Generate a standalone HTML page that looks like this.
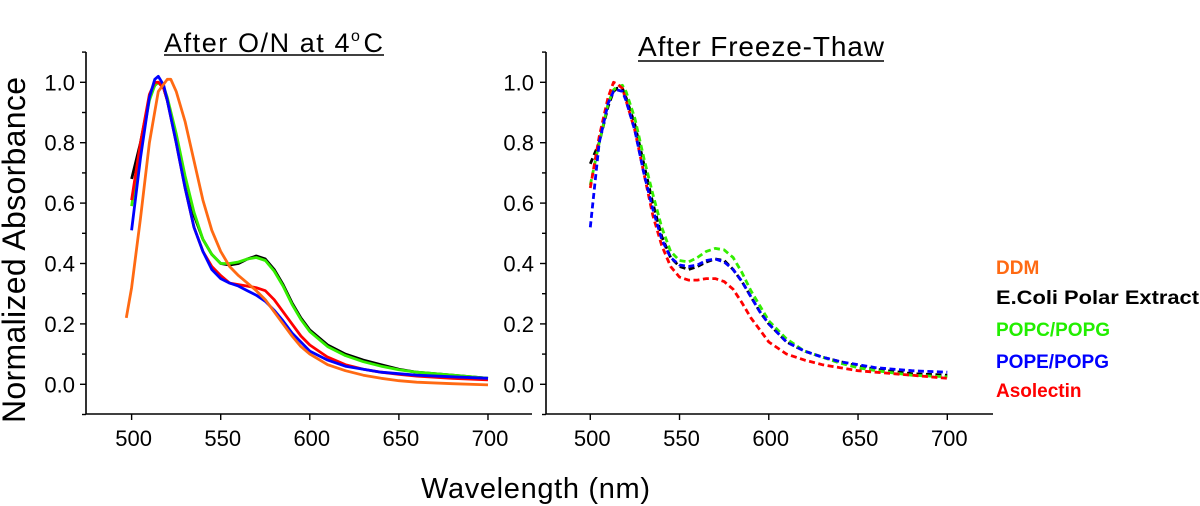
<!DOCTYPE html>
<html><head><meta charset="utf-8"><style>
html,body{margin:0;padding:0;background:#fff;}
svg{display:block;font-family:"Liberation Sans",Arial,sans-serif;}
</style></head><body>
<svg id="chart" width="1200" height="506" viewBox="0 0 1200 506">
<g id="p1"></g>
<g id="p2"></g>
<text x="164" y="52" font-size="27" textLength="219">After O/N at 4<tspan dy="-11" font-size="16">o</tspan><tspan dy="11" dx="2">C</tspan></text>
<line x1="164" y1="55" x2="384" y2="55" stroke="#000" stroke-width="1.6"/>
<text x="638" y="56" font-size="28" textLength="246">After Freeze-Thaw</text>
<line x1="638" y1="61" x2="884" y2="61" stroke="#000" stroke-width="1.6"/>
<text transform="translate(25,250) rotate(-90)" font-size="32" text-anchor="middle" textLength="346">Normalized  Absorbance</text>
<text x="421" y="498" font-size="29" textLength="229">Wavelength (nm)</text>
<g font-size="19" font-weight="bold">
<text x="996" y="274" fill="#ff6a13">DDM</text>
<text x="996" y="304" fill="#000" textLength="203" lengthAdjust="spacingAndGlyphs">E.Coli Polar Extract</text>
<text x="996" y="336" fill="#22ee00">POPC/POPG</text>
<text x="996" y="368" fill="#0000ff">POPE/POPG</text>
<text x="996" y="397" fill="#ff0000">Asolectin</text>
</g>
</svg>
<script>
const wl=[500,505,510,513,515,518,520,525,530,535,540,545,550,555,560,565,570,575,580,585,590,595,600,610,620,630,640,650,660,680,700];
const xTicks=[500,550,600,650,700];
const yTicks=[0.0,0.2,0.4,0.6,0.8,1.0];
const yTickLabels=["0.0","0.2","0.4","0.6","0.8","1.0"];
// left panel (solid)
const onEcoli=[0.68,0.80,0.95,0.99,1.0,0.98,0.94,0.82,0.68,0.56,0.48,0.43,0.40,0.395,0.40,0.415,0.425,0.415,0.38,0.33,0.27,0.22,0.18,0.13,0.10,0.08,0.065,0.05,0.04,0.03,0.02];
const onPopc=[0.59,0.78,0.94,0.99,1.0,0.985,0.95,0.83,0.69,0.57,0.48,0.43,0.40,0.40,0.405,0.415,0.42,0.41,0.375,0.325,0.265,0.215,0.175,0.125,0.095,0.075,0.06,0.048,0.04,0.03,0.02];
const onPope=[0.51,0.75,0.95,1.01,1.02,0.99,0.94,0.80,0.65,0.52,0.44,0.38,0.35,0.335,0.325,0.31,0.295,0.275,0.245,0.21,0.17,0.14,0.11,0.08,0.06,0.05,0.04,0.035,0.03,0.025,0.02];
const onAso=[0.61,0.80,0.96,1.0,1.0,0.98,0.94,0.80,0.65,0.52,0.44,0.39,0.36,0.335,0.33,0.325,0.32,0.31,0.28,0.24,0.20,0.16,0.13,0.09,0.065,0.05,0.04,0.033,0.027,0.02,0.015];
const ddmWl=[497,500,505,510,515,520,522,525,530,535,540,545,550,555,560,565,570,575,580,585,590,595,600,610,620,630,640,650,660,680,700];
const ddm=[0.22,0.32,0.55,0.80,0.97,1.01,1.01,0.97,0.87,0.74,0.61,0.51,0.44,0.39,0.36,0.335,0.31,0.28,0.24,0.20,0.16,0.125,0.10,0.065,0.045,0.03,0.02,0.012,0.007,0.002,-0.002];
// right panel (dashed)
const ftEcoli=[0.73,0.80,0.92,0.97,0.98,0.98,0.95,0.86,0.73,0.60,0.49,0.42,0.39,0.38,0.39,0.405,0.415,0.41,0.38,0.34,0.29,0.24,0.20,0.14,0.11,0.09,0.075,0.06,0.05,0.035,0.03];
const ftPopc=[0.66,0.80,0.93,0.975,0.985,0.99,0.97,0.88,0.75,0.63,0.52,0.44,0.41,0.405,0.42,0.44,0.45,0.445,0.42,0.37,0.31,0.26,0.21,0.15,0.11,0.09,0.07,0.055,0.045,0.03,0.025];
const ftPope=[0.52,0.80,0.93,0.97,0.975,0.97,0.94,0.84,0.70,0.58,0.48,0.42,0.395,0.39,0.395,0.41,0.415,0.405,0.38,0.34,0.29,0.24,0.20,0.14,0.11,0.09,0.075,0.065,0.055,0.045,0.04];
const ftAso=[0.65,0.82,0.95,1.0,0.995,0.98,0.94,0.84,0.70,0.56,0.46,0.39,0.355,0.345,0.345,0.35,0.35,0.34,0.315,0.27,0.22,0.18,0.14,0.10,0.08,0.065,0.055,0.045,0.04,0.03,0.02];

const NS="http://www.w3.org/2000/svg";
function mk(tag,attrs,parent){const e=document.createElementNS(NS,tag);for(const k in attrs)e.setAttribute(k,attrs[k]);parent.appendChild(e);return e;}
const yS=v=>384.3-v*302;
function drawPanel(g,x0,x1,xMin,xMax,labelRight){
  const xS=v=>x0+(v-xMin)/(xMax-xMin)*(x1-x0);
  const ax=mk('path',{d:`M${x0},52 L${x0},414 L${x1},414`,fill:'none',stroke:'#000','stroke-width':1.6},g);
  
  
  for(let v=-0.1;v<=1.101;v+=0.1){
    const major=Math.abs(Math.round(v*10)%2)===0;
    mk('line',{x1:x0,x2:x0-(major?6:4),y1:yS(v),y2:yS(v),stroke:'#000','stroke-width':1.4},g);
  }
  yTicks.forEach((v,i)=>{
    const t=mk('text',{x:labelRight,y:yS(v)+8,'font-size':22,'text-anchor':'end'},g);
    t.textContent=yTickLabels[i];
    
    
  });
  xTicks.forEach(v=>{
    mk('line',{x1:xS(v),x2:xS(v),y1:414,y2:420,stroke:'#000','stroke-width':1.4},g);
    const t=mk('text',{x:xS(v)+2,y:446,'font-size':22,'text-anchor':'middle'},g);
    t.textContent=v;
    
    
  });
  return xS;
}
function line(g,xS,xs,ys,color,dash,name){
  const d=xs.map((x,i)=>(i?'L':'M')+xS(x).toFixed(1)+','+yS(ys[i]).toFixed(1)).join(' ');
  const p=mk('path',{d:d,fill:'none',stroke:color,'stroke-width':2.8,'stroke-linejoin':'round'},g);
  if(dash)p.setAttribute('stroke-dasharray','6 3.5');
  
  
}
const g1=document.getElementById('p1'),g2=document.getElementById('p2');
const xs1=drawPanel(g1,86,532,474.4,724.7,75);
line(g1,xs1,wl,onEcoli,'#000',false,'line-ecoli');
line(g1,xs1,wl,onPopc,'#33ee00',false,'line-popc-popg');
line(g1,xs1,wl,onAso,'#ff0000',false,'line-asolectin');
line(g1,xs1,wl,onPope,'#0000ff',false,'line-pope-popg');
line(g1,xs1,ddmWl,ddm,'#ff6a13',false,'line-ddm');
const xs2=drawPanel(g2,546,993,475.2,725.6,534);
line(g2,xs2,wl,ftEcoli,'#000',true,'line-ecoli-ft');
line(g2,xs2,wl,ftPopc,'#33ee00',true,'line-popc-popg-ft');
line(g2,xs2,wl,ftAso,'#ff0000',true,'line-asolectin-ft');
line(g2,xs2,wl,ftPope,'#0000ff',true,'line-pope-popg-ft');
</script>
</body></html>
